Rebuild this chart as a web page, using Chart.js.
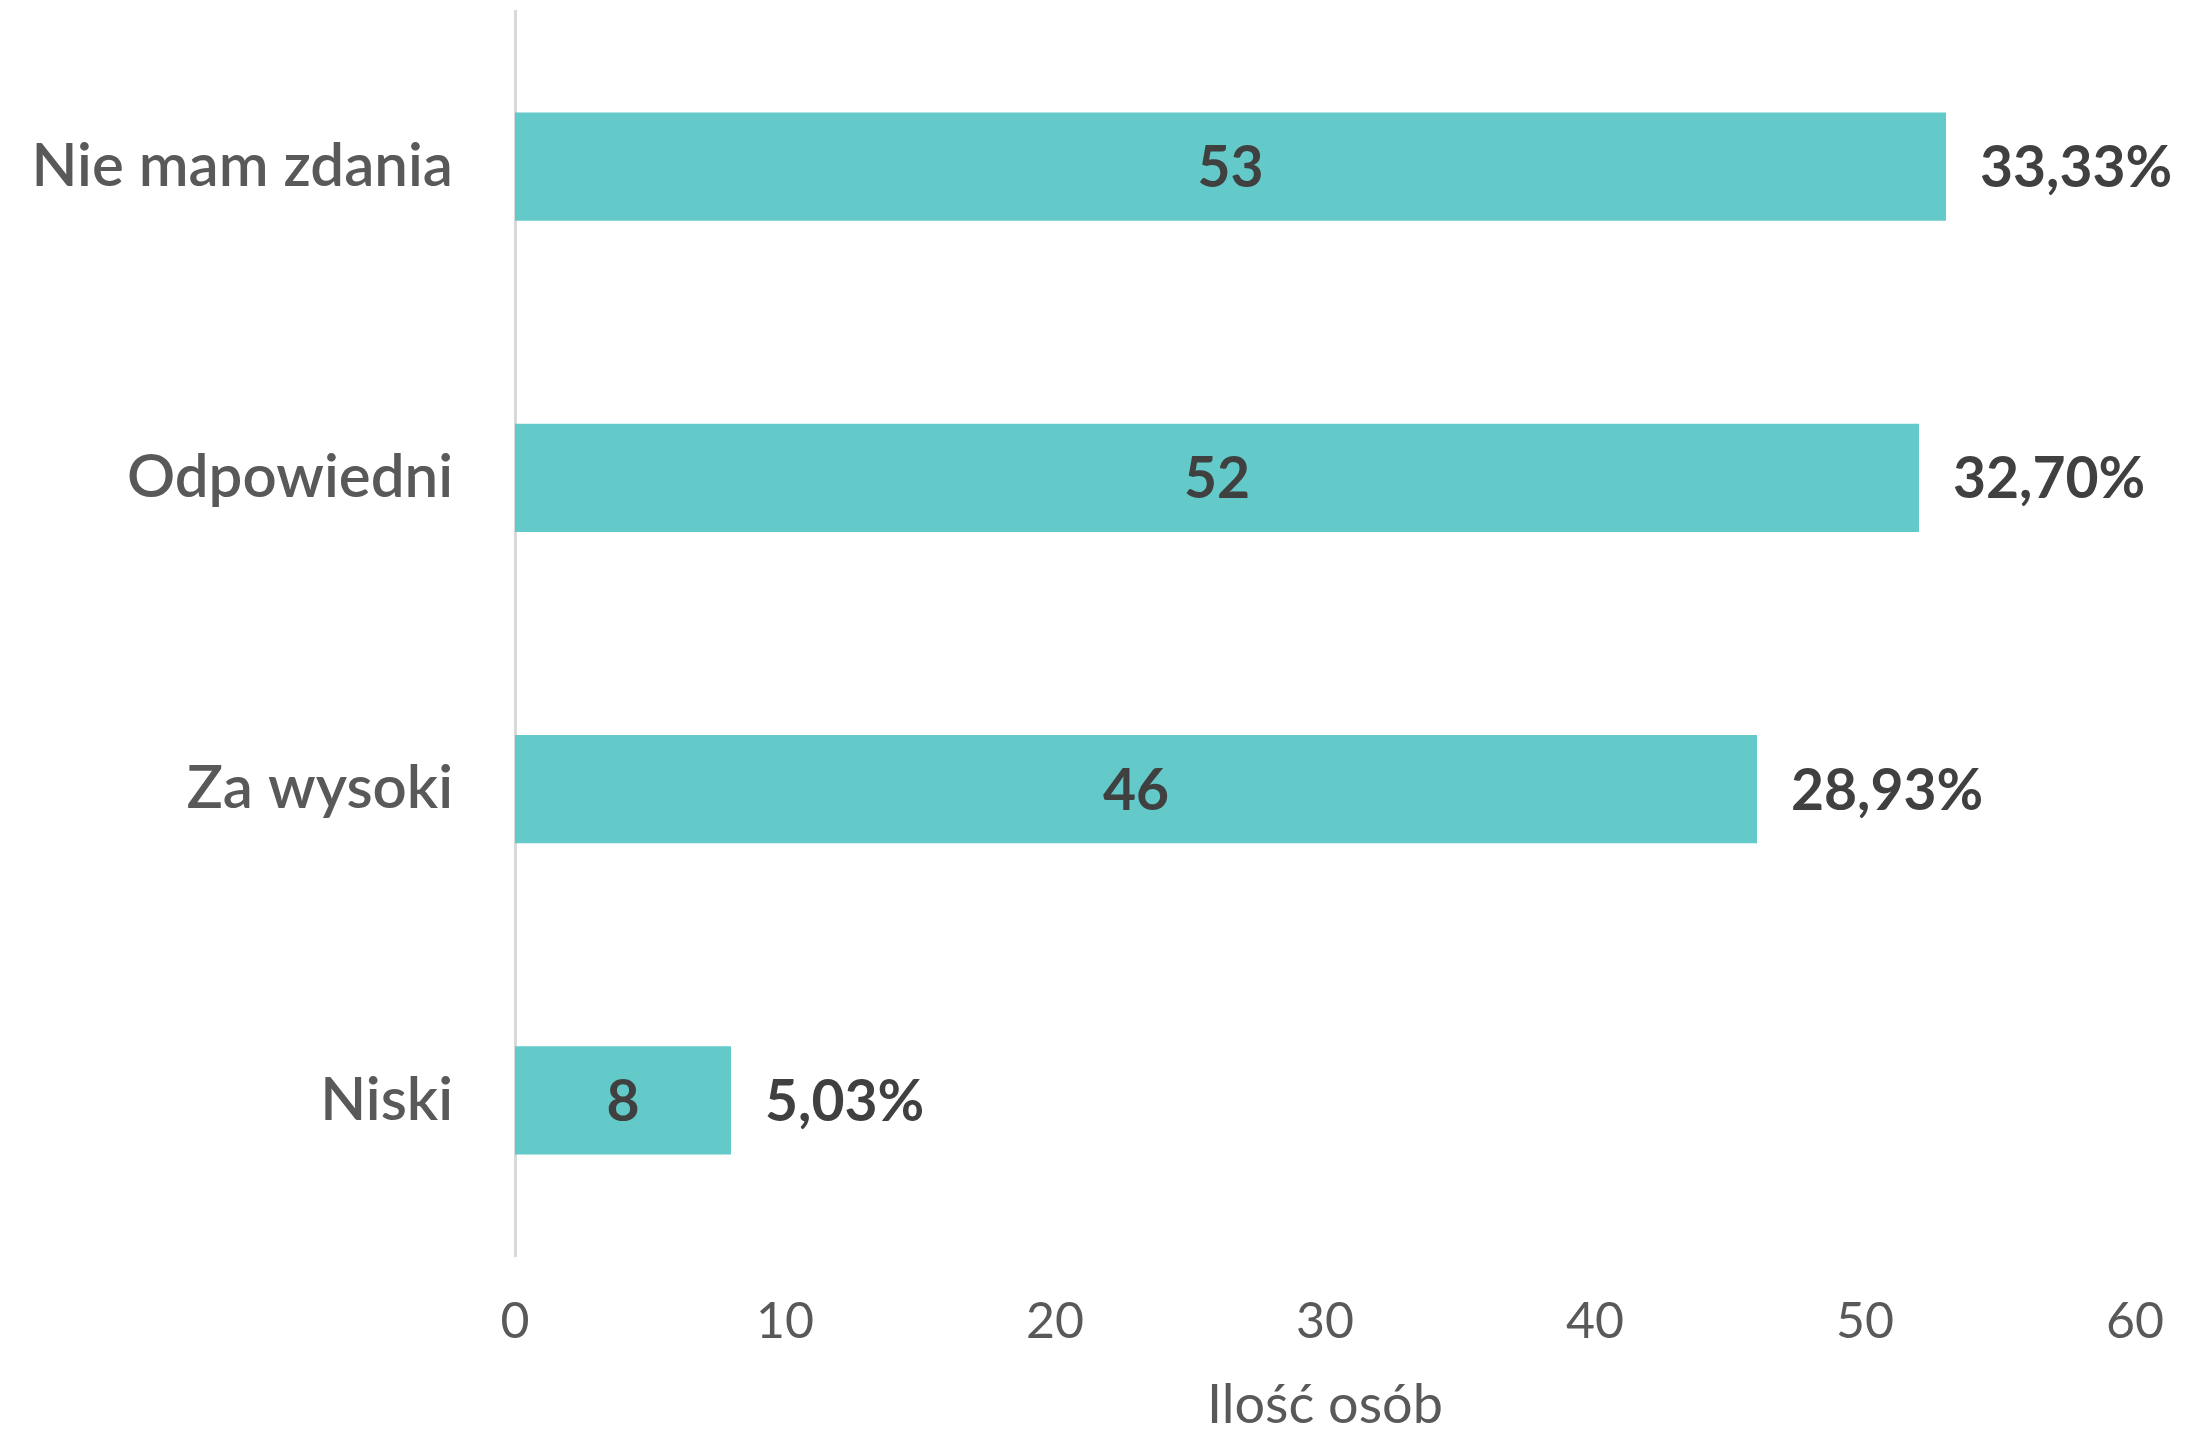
<!DOCTYPE html>
<html>
<head>
<meta charset="utf-8">
<script src="https://cdn.jsdelivr.net/npm/chart.js@4"></script>
<style>
  html, body { margin: 0; padding: 0; background: #fff; }
  #wrap { width: 2201px; height: 1433px; }
</style>
</head>
<body>
<div id="wrap"><canvas id="barChart" width="2201" height="1433"></canvas></div>
<script>
// answers and counts, top to bottom
const categories = ["Nie mam zdania", "Odpowiedni", "Za wysoki", "Niski"];
const counts = [53, 52, 46, 8];
const percentLabels = ["33,33%", "32,70%", "28,93%", "5,03%"];
const xTicks = [0, 10, 20, 30, 40, 50, 60];
const xTitle = "Ilość osób";

const FONT = "Lato, 'Open Sans', sans-serif";

// draws the count inside each bar and the share just after it
const barLabels = {
  id: "barLabels",
  afterDatasetsDraw(chart) {
    const ctx = chart.ctx;
    const meta = chart.getDatasetMeta(0);
    ctx.save();
    ctx.fillStyle = "#404040";
    ctx.font = "bold 57px " + FONT;
    ctx.textBaseline = "middle";
    meta.data.forEach((bar, i) => {
      const mid = (bar.x + bar.base) / 2;
      ctx.textAlign = "center";
      ctx.fillText(String(counts[i]), mid, bar.y + 2);
      ctx.textAlign = "left";
      ctx.fillText(percentLabels[i], bar.x + 34, bar.y + 2);
    });
    ctx.restore();
  }
};

new Chart(document.getElementById("barChart"), {
  type: "bar",
  data: {
    labels: categories,
    datasets: [{
      data: counts,
      backgroundColor: "#63C9C9",
      borderWidth: 0,
      barPercentage: 0.347,
      categoryPercentage: 1
    }]
  },
  options: {
    indexAxis: "y",
    responsive: false,
    animation: false,
    layout: { padding: { top: 11, right: 66, left: 0, bottom: 0 } },
    plugins: {
      legend: { display: false },
      tooltip: { enabled: false }
    },
    scales: {
      x: {
        min: 0,
        max: 60,
        afterBuildTicks(scale) {
          scale.ticks = xTicks.map(v => ({ value: v }));
        },
        afterFit(scale) {
          scale.height = 177;
          scale.paddingLeft = 0;
          scale.paddingRight = 0;
        },
        grid: { display: false, drawTicks: false },
        border: { display: false },
        ticks: {
          color: "#595959",
          padding: 36,
          font: { family: FONT, size: 50 }
        },
        title: {
          display: true,
          text: xTitle,
          color: "#595959",
          padding: { top: 0, bottom: 0 },
          font: { family: FONT, size: 54, lineHeight: 1 }
        }
      },
      y: {
        afterFit(scale) {
          scale.width = 515;
          scale.paddingTop = 0;
          scale.paddingBottom = 0;
        },
        grid: { display: false, drawTicks: false },
        border: { display: true, color: "#D9D9D9", width: 3 },
        ticks: {
          color: "#595959",
          padding: 62,
          font: { family: FONT, size: 60, weight: "600" }
        }
      }
    }
  },
  plugins: [barLabels]
});
</script>
</body>
</html>
